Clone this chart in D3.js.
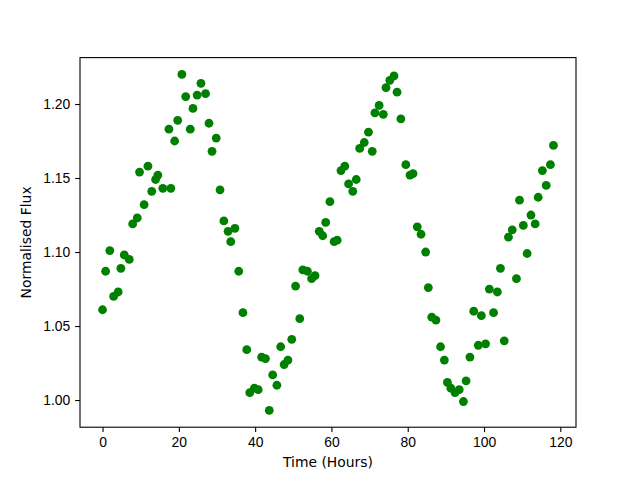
<!DOCTYPE html>
<html lang="en">
<head>
<meta charset="UTF-8">
<title>Normalised Flux vs Time</title>
<script src="https://d3js.org/d3.v7.min.js"></script>
<style>
  body { margin: 0; background: #fff; }
  svg { display: block; font-family: "DejaVu Sans", sans-serif; }
  .axis path { display: none; }
  .axis line { stroke: #000; stroke-width: 1.1; }
  .axis text { font-size: 13.9px; fill: #000; }
  .frame { fill: none; stroke: #000; stroke-width: 1.1; }
  .label { font-size: 13.9px; fill: #000; }
</style>
</head>
<body>
<script>
  // observation times (hours)
  var hours = [
    0.0, 0.8, 1.9, 2.9, 4.1, 4.8, 5.7, 7.0, 7.9, 9.1,
    9.7, 10.9, 11.9, 12.9, 13.9, 14.5, 15.8, 17.4, 17.9, 18.9,
    19.7, 20.8, 21.8, 23.0, 23.7, 24.8, 25.8, 27.0, 27.9, 28.7,
    29.8, 30.8, 31.8, 32.9, 33.6, 34.7, 35.7, 36.8, 37.8, 38.6,
    39.8, 40.8, 41.7, 42.7, 43.7, 44.6, 45.7, 46.7, 47.6, 48.6,
    49.6, 50.6, 51.7, 52.5, 53.7, 54.8, 55.7, 56.8, 57.7, 58.5,
    59.6, 60.7, 61.5, 62.5, 63.5, 64.5, 65.6, 66.5, 67.4, 68.6,
    69.7, 70.7, 71.4, 72.5, 73.6, 74.3, 75.3, 76.4, 77.2, 78.2,
    79.5, 80.6, 81.4, 82.5, 83.5, 84.7, 85.4, 86.3, 87.4, 88.6,
    89.6, 90.4, 91.3, 92.4, 93.5, 94.6, 95.3, 96.3, 97.3, 98.5,
    99.3, 100.4, 101.4, 102.5, 103.5, 104.3, 105.3, 106.4, 107.4, 108.5,
    109.3, 110.3, 111.3, 112.3, 113.4, 114.2, 115.3, 116.3, 117.4, 118.2
  ];

  // normalised flux at each time
  var flux = [
    1.061, 1.087, 1.101, 1.070, 1.073, 1.089, 1.098, 1.095, 1.119, 1.123,
    1.154, 1.132, 1.158, 1.141, 1.149, 1.152, 1.143, 1.183, 1.143, 1.175,
    1.189, 1.220, 1.205, 1.183, 1.197, 1.206, 1.214, 1.207, 1.187, 1.168,
    1.177, 1.142, 1.121, 1.114, 1.107, 1.116, 1.087, 1.059, 1.034, 1.005,
    1.008, 1.007, 1.029, 1.028, 0.993, 1.017, 1.010, 1.036, 1.024, 1.027,
    1.041, 1.077, 1.055, 1.088, 1.087, 1.082, 1.084, 1.114, 1.111, 1.120,
    1.134, 1.107, 1.108, 1.155, 1.158, 1.146, 1.141, 1.149, 1.170, 1.174,
    1.181, 1.168, 1.194, 1.199, 1.193, 1.211, 1.216, 1.219, 1.208, 1.190,
    1.159, 1.152, 1.153, 1.117, 1.112, 1.100, 1.076, 1.056, 1.054, 1.036,
    1.027, 1.012, 1.008, 1.005, 1.007, 0.999, 1.013, 1.029, 1.060, 1.037,
    1.057, 1.038, 1.075, 1.059, 1.073, 1.089, 1.040, 1.110, 1.115, 1.082,
    1.135, 1.118, 1.099, 1.125, 1.119, 1.137, 1.155, 1.145, 1.159, 1.172
  ];

  var xTicks = [0, 20, 40, 60, 80, 100, 120];
  var yTicks = [1.00, 1.05, 1.10, 1.15, 1.20];

  var points = hours.map(function(h, i) { return {t: h, f: flux[i]}; });

  var width = 640, height = 480;
  var margin = {top: 57.6, right: 64, bottom: 52.8, left: 80};
  var w = width - margin.left - margin.right,
      h = height - margin.top - margin.bottom;

  // matplotlib-style 5% padding around the data
  function padded(ext) {
    var p = (ext[1] - ext[0]) * 0.05;
    return [ext[0] - p, ext[1] + p];
  }

  var x = d3.scaleLinear().domain(padded(d3.extent(hours))).range([0, w]);
  var y = d3.scaleLinear().domain(padded(d3.extent(flux))).range([h, 0]);

  var svg = d3.select("body").append("svg")
      .attr("width", width)
      .attr("height", height);

  var g = svg.append("g")
      .attr("transform", "translate(" + margin.left + "," + margin.top + ")");

  var tick = 4.86;

  g.append("g")
      .attr("class", "axis")
      .attr("transform", "translate(0," + h + ")")
      .call(d3.axisBottom(x).tickValues(xTicks).tickSize(tick).tickPadding(tick)
        .tickFormat(d3.format("d")));

  g.append("g")
      .attr("class", "axis")
      .call(d3.axisLeft(y).tickValues(yTicks).tickSize(tick).tickPadding(tick)
        .tickFormat(d3.format(".2f")));

  g.selectAll("circle.pt")
      .data(points)
    .enter().append("circle")
      .attr("class", "pt")
      .attr("cx", function(d) { return x(d.t); })
      .attr("cy", function(d) { return y(d.f); })
      .attr("r", 4.4)
      .attr("fill", "#008000");

  g.append("rect")
      .attr("class", "frame")
      .attr("width", w)
      .attr("height", h);

  // axis labels
  svg.append("text")
      .attr("class", "label")
      .attr("x", margin.left + w / 2)
      .attr("y", 467)
      .attr("text-anchor", "middle")
      .text("Time (Hours)");

  svg.append("text")
      .attr("class", "label")
      .attr("transform", "translate(31," + (margin.top + h / 2) + ") rotate(-90)")
      .attr("text-anchor", "middle")
      .text("Normalised Flux");
</script>
</body>
</html>
